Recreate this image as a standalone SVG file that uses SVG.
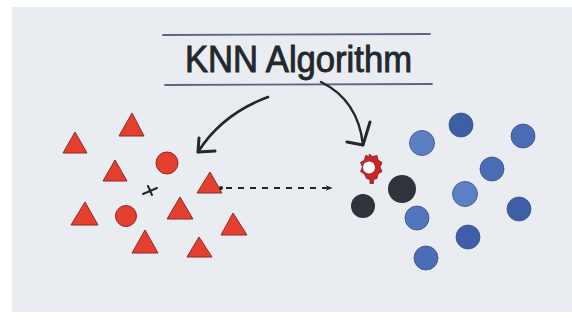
<svg xmlns="http://www.w3.org/2000/svg" width="572" height="321" viewBox="0 0 572 321">
<style>
.tri{fill:#e5402f;stroke:#8e2a22;stroke-width:1;stroke-linejoin:round}
.rc{fill:#e5402f;stroke:#8e2a22;stroke-width:1}
.dk{fill:#2e3439}
.bl{stroke:#38507f;stroke-width:0.8}
.rule{stroke:#5a6782;stroke-width:1.8;fill:none;stroke-linecap:round}
.ink{stroke:#22272c;fill:none;stroke-linecap:round;stroke-linejoin:round}
</style>
<defs>
<marker id="dh" viewBox="0 0 10 10" refX="9" refY="5" markerWidth="9" markerHeight="7" orient="auto" markerUnits="userSpaceOnUse">
<path d="M0,1 L10,5 L0,9 L3,5 Z" fill="#22272c"/>
</marker>
</defs>
<rect width="572" height="321" fill="#ffffff"/>
<rect x="12" y="7" width="560" height="305" fill="#e9edf1"/>
<g id="title">
<line class="rule" x1="163" y1="35" x2="430" y2="34"/>
<line class="rule" x1="165" y1="85" x2="432" y2="84"/>
<text x="185" y="72" font-family="'Liberation Sans', Arial, sans-serif" font-size="36" fill="#23282d" stroke="#23282d" stroke-width="0.9" textLength="227" lengthAdjust="spacingAndGlyphs">KNN Algorithm</text>
</g>
<g id="class-a">
<polygon class="tri" points="75,132 87,153 63,153"/>
<polygon class="tri" points="132,113 144,136 119,136"/>
<polygon class="tri" points="115,160 127,181 103,181"/>
<polygon class="tri" points="210,172 222,193 197,193"/>
<polygon class="tri" points="85,202 98,225 71,225"/>
<polygon class="tri" points="180,197 193,219 167,219"/>
<polygon class="tri" points="233,213 247,235 221,235"/>
<polygon class="tri" points="145,230 158,253 132,253"/>
<polygon class="tri" points="199,237 212,257 187,257"/>
<circle class="rc" cx="167" cy="163" r="11"/>
<circle class="rc" cx="126" cy="216" r="10.5"/>
</g>
<g id="query-mark">
<path class="ink" d="M143,194 L157,188 M148,186 L152,195" stroke-width="2"/>
</g>
<g id="new-point">
<path d="M369,154 l3.5,2.5 l4.5,-1 l1,4.5 l4,2.5 l-2,4.5 l2,4.5 l-4,2.5 l-1,4.5 l-3.5,1 l0,4 l-3.5,0 l0,-4 l-3.5,-1 l-2,-4.5 l-4,-2.5 l2,-4.5 l-2,-4.5 l4,-2.5 l1,-4.5 l4.5,1 Z" fill="#c4282a" stroke="#8b1c1c" stroke-width="0.8"/>
<circle cx="369" cy="167.5" r="6" fill="#ffffff"/>
</g>
<g id="neighbors">
<circle class="dk" cx="363" cy="206" r="12"/>
<circle class="dk" cx="402" cy="189" r="14"/>
</g>
<g id="class-b">
<circle class="bl" cx="422" cy="143" r="12.5" fill="#5a7fc4"/>
<circle class="bl" cx="461" cy="125" r="12" fill="#3f5ea8"/>
<circle class="bl" cx="523" cy="136" r="12" fill="#4a6db5"/>
<circle class="bl" cx="492" cy="169" r="12" fill="#4a6db5"/>
<circle class="bl" cx="465" cy="194" r="12.5" fill="#5a80c5"/>
<circle class="bl" cx="417" cy="218" r="12" fill="#5076bf"/>
<circle class="bl" cx="519" cy="209" r="12" fill="#3f5ea8"/>
<circle class="bl" cx="468" cy="237" r="12" fill="#3e5eaa"/>
<circle class="bl" cx="426" cy="258" r="12" fill="#4a6db8"/>
</g>
<g id="connectors">
<path class="ink" d="M268,97 Q222,114 198,152" stroke-width="2.6"/>
<path class="ink" d="M198,152 L199,138 M198,152 L215,151" stroke-width="3"/>
<path class="ink" d="M321,82 Q358,100 363,145" stroke-width="2.4"/>
<path class="ink" d="M363,145 L347,142 M363,145 L370,122" stroke-width="3"/>
<circle cx="221" cy="188" r="2" fill="#22272c"/>
<line x1="226" y1="188" x2="332" y2="188" stroke="#22272c" stroke-width="2" stroke-dasharray="6,6" marker-end="url(#dh)"/>
</g>
</svg>
